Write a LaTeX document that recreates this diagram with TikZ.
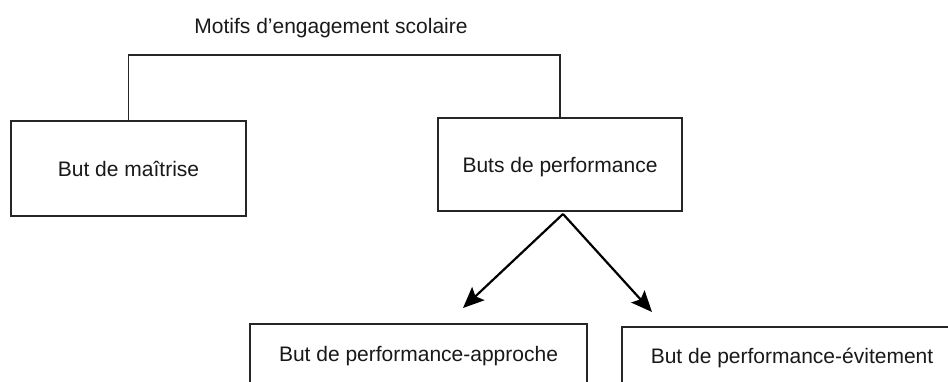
\documentclass[tikz,border=0pt]{standalone}
\usepackage{fontspec}
\setmainfont{Liberation Sans}
\usetikzlibrary{arrows.meta}
\begin{document}
\begin{tikzpicture}[x=1pt,y=-1pt,
  txt/.style={font=\fontsize{21}{25}\selectfont, text height=15pt, text depth=0pt, inner sep=0pt, text=black!90},
  goalbox/.style={txt, draw=black!85, line width=1.4pt, rectangle},
  conn/.style={draw=black!85, line width=1.4pt},
  arr/.style={draw=black, line width=2.2pt, -{Stealth[length=21pt,width=18pt,inset=4pt]}}]
\useasboundingbox (0,0) rectangle (948,381);
\fill[white] (0,0) rectangle (948,381);

\node[txt] (title) at (331,25.5) {Motifs d’engagement scolaire};

\node[goalbox, minimum width=235pt, minimum height=95pt] (lb) at (128.5,168.5) {But de maîtrise};
\node[goalbox, minimum width=244pt, minimum height=93pt] (rb) at (560,164.5) {Buts de performance};
\node[goalbox, minimum width=337pt, minimum height=59pt] (ba) at (418.5,353.5) {But de performance-approche};
\node[goalbox, minimum width=340pt, minimum height=57pt] (be) at (792,355.5) {But de performance-évitement};

\coordinate (bar) at (0,55);
\draw[conn] (lb.north) |- (bar -| rb.north) -- (rb.north);

\coordinate (apex) at (563,214);
\coordinate (tipL) at (463,308);
\coordinate (tipR) at (652,312);
\draw[arr] (apex) -- (tipL);
\draw[arr] (apex) -- (tipR);
\end{tikzpicture}
\end{document}
